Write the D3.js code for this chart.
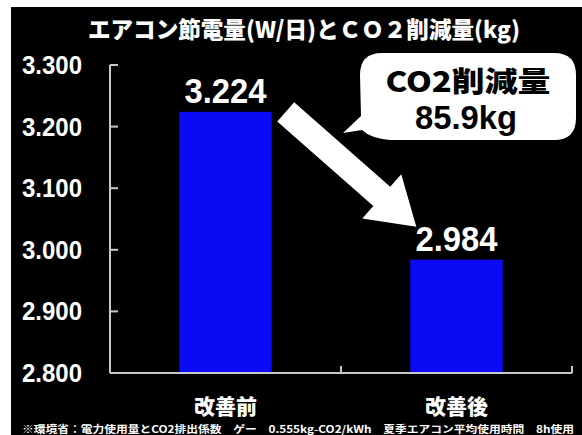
<!DOCTYPE html>
<html><head><meta charset="utf-8">
<script src="https://cdn.jsdelivr.net/npm/d3@7"></script>
<style>html,body{margin:0;padding:0;background:#fff;}svg{display:block;}</style>
</head><body>
<script>
const title = "エアコン節電量(W/日)とＣＯ２削減量(kg)";
const categories = ["改善前", "改善後"];
const values = [3.224, 2.984];
const valueLabels = ["3.224", "2.984"];
const yTicks = [2.8, 2.9, 3.0, 3.1, 3.2, 3.3];
const yTickLabels = ["2.800", "2.900", "3.000", "3.100", "3.200", "3.300"];
const calloutLines = ["CO2削減量", "85.9kg"];
const footNote = "※環境省：電力使用量とCO2排出係数　ゲー　0.555kg-CO2/kWh　夏季エアコン平均使用時間　8h使用";

const W = 582, H = 435;
const svg = d3.select("body").append("svg").attr("width", W).attr("height", H);
svg.append("rect").attr("x", 11).attr("y", 7).attr("width", W - 11).attr("height", H - 7).attr("fill", "#000");

const y = d3.scaleLinear().domain([2.8, 3.3]).range([373, 65]);
const x = d3.scaleBand().domain(categories).range([110, 572]).padding(0);

const latin = "'Liberation Sans', Arial, sans-serif";
const cjk = "'Noto Sans CJK JP', sans-serif";

// title
svg.append("text").attr("x", 88).attr("y", 38).attr("fill", "#fff")
  .attr("font-family", cjk).attr("font-weight", 900).attr("font-size", 23)
  .attr("textLength", 432).attr("lengthAdjust", "spacingAndGlyphs").text(title);

// y axis
const axisColor = "#c8c8c8";
svg.append("line").attr("x1", 110).attr("x2", 110).attr("y1", y(3.3)).attr("y2", y(2.8))
  .attr("stroke", axisColor).attr("stroke-width", 2);
svg.selectAll(".ytick").data(yTicks).enter().append("line")
  .attr("x1", 110).attr("x2", 118).attr("y1", d => y(d)).attr("y2", d => y(d))
  .attr("stroke", axisColor).attr("stroke-width", 2);
svg.selectAll(".ylab").data(yTicks).enter().append("text")
  .attr("x", 82).attr("y", d => y(d) + 9).attr("text-anchor", "end")
  .attr("fill", "#fff").attr("font-family", latin).attr("font-weight", "bold").attr("font-size", 25)
  .attr("textLength", 60).attr("lengthAdjust", "spacingAndGlyphs")
  .text((d, i) => yTickLabels[i]);

// bars
svg.selectAll(".bar").data(values).enter().append("rect")
  .attr("x", (d, i) => x(categories[i]) + x.bandwidth() * 0.3)
  .attr("width", x.bandwidth() * 0.4)
  .attr("y", d => y(d)).attr("height", d => y(2.8) - y(d))
  .attr("fill", "#0a0af5");

// x axis
svg.append("line").attr("x1", 110).attr("x2", 572).attr("y1", y(2.8)).attr("y2", y(2.8))
  .attr("stroke", axisColor).attr("stroke-width", 2);
const bounds = categories.map(c => x(c) + x.bandwidth());
svg.selectAll(".xtick").data(bounds).enter().append("line")
  .attr("x1", d => d).attr("x2", d => d).attr("y1", y(2.8)).attr("y2", y(2.8) - 7)
  .attr("stroke", axisColor).attr("stroke-width", 2);
svg.selectAll(".xlab").data(categories).enter().append("text")
  .attr("x", d => x(d) + x.bandwidth() / 2).attr("y", 414).attr("text-anchor", "middle")
  .attr("fill", "#fff").attr("font-family", cjk).attr("font-weight", 900).attr("font-size", 21)
  .text(d => d);

// value labels
svg.selectAll(".vlab").data(values).enter().append("text")
  .attr("x", (d, i) => x(categories[i]) + x.bandwidth() / 2)
  .attr("y", d => y(d) - 9).attr("text-anchor", "middle")
  .attr("fill", "#fff").attr("font-family", latin).attr("font-weight", "bold").attr("font-size", 35)
  .attr("textLength", 82).attr("lengthAdjust", "spacingAndGlyphs")
  .text((d, i) => valueLabels[i]);

// arrow from bar 1 to bar 2
(function () {
  const x0 = x(categories[0]) + x.bandwidth() * 0.7 + 14, y0 = y(values[0]);
  const x1 = x(categories[1]) + x.bandwidth() * 0.3 + 6, y1 = y(values[1]) - 33;
  const dx = x1 - x0, dy = y1 - y0, L = Math.hypot(dx, dy);
  const ux = dx / L, uy = dy / L, nx = -uy, ny = ux;
  const sw = 12.8, hw = 29.5, hl = 46;
  const bx = x1 - ux * hl, by = y1 - uy * hl;
  const pts = [
    [x0 + nx * sw, y0 + ny * sw], [bx + nx * sw, by + ny * sw], [bx + nx * hw, by + ny * hw],
    [x1, y1],
    [bx - nx * hw, by - ny * hw], [bx - nx * sw, by - ny * sw], [x0 - nx * sw, y0 - ny * sw]
  ];
  svg.append("polygon").attr("points", pts.map(p => p.join(",")).join(" ")).attr("fill", "#fff");
})();

// callout bubble
const bx0 = 360, by0 = 53, bx1 = 576, by1 = 140, r = 22;
const bubble = `M${bx0 + r},${by0} L${bx1 - r},${by0} Q${bx1},${by0} ${bx1},${by0 + r} L${bx1},${by1 - r} Q${bx1},${by1} ${bx1 - r},${by1}
 L${bx0 + 30},${by1} Q${bx0 + 10},${by1 - 2} ${bx0 + 2},${by1 - 10} L${bx0 - 17},${by1 - 7} L${bx0 + 1},${by1 - 24}
 L${bx0},${by0 + r} Q${bx0},${by0} ${bx0 + r},${by0} Z`;
svg.append("path").attr("d", bubble).attr("fill", "#fff");
svg.append("text").attr("x", 468).attr("y", 92).attr("text-anchor", "middle")
  .attr("fill", "#000").attr("font-family", cjk).attr("font-weight", 900).attr("font-size", 28)
  .attr("textLength", 165).attr("lengthAdjust", "spacingAndGlyphs").text(calloutLines[0]);
svg.append("text").attr("x", 466).attr("y", 129).attr("text-anchor", "middle")
  .attr("fill", "#000").attr("font-family", latin).attr("font-weight", "bold").attr("font-size", 33)
  .attr("textLength", 102).attr("lengthAdjust", "spacingAndGlyphs").text(calloutLines[1]);

// foot note
svg.append("text").attr("x", 22).attr("y", 433).attr("fill", "#fff")
  .attr("font-family", cjk).attr("font-weight", 700).attr("font-size", 10)
  .attr("textLength", 552).attr("lengthAdjust", "spacingAndGlyphs").text(footNote);
</script>
</body></html>
